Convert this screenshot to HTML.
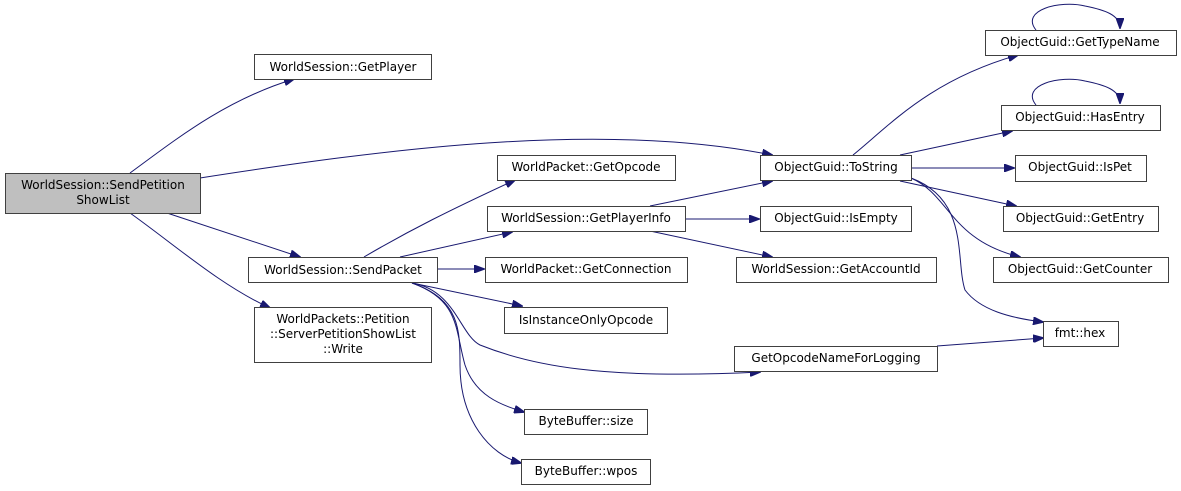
<!DOCTYPE html>
<html><head><meta charset="utf-8"><style>
html,body{margin:0;padding:0;background:#fff;}
svg{display:block}
text{font-family:"DejaVu Sans","Liberation Sans",sans-serif;font-size:12px;fill:#000;text-anchor:middle}
rect{fill:#fff;stroke:#404040;stroke-width:1}
path{fill:none;stroke:#191970;stroke-width:1}
</style></head><body>
<svg width="1181" height="491" viewBox="0 0 1181 491" xmlns="http://www.w3.org/2000/svg">
<defs><marker id="a" markerWidth="11" markerHeight="8" refX="10" refY="4" orient="auto" markerUnits="userSpaceOnUse"><polygon points="0,0 11,4 0,8" fill="#191970" stroke="#191970"/></marker></defs>

<!-- edges -->
<path marker-end="url(#a)" d="M130,173 C175,140 225,100 294,79"/>
<path marker-end="url(#a)" d="M200,178 C380,150 600,120 772,155"/>
<path marker-end="url(#a)" d="M167,213 L300,257"/>
<path marker-end="url(#a)" d="M130,213 C175,245 220,285 270,308"/>
<path marker-end="url(#a)" d="M364,257 C410,230 450,210 515,180"/>
<path marker-end="url(#a)" d="M400,257 L512,232"/>
<path marker-end="url(#a)" d="M437,269 L484,269"/>
<path marker-end="url(#a)" d="M412,283 L522,306"/>
<path marker-end="url(#a)" d="M412,283 C455,290 460,335 480,345 C530,365 600,380 760,372"/>
<path marker-end="url(#a)" d="M412,283 C460,300 455,330 465,365 C475,395 500,405 524,412"/>
<path marker-end="url(#a)" d="M412,283 C460,300 460,330 460,365 C460,420 490,455 521,463"/>
<path marker-end="url(#a)" d="M650,206 L772,181"/>
<path marker-end="url(#a)" d="M685,219 L759,219"/>
<path marker-end="url(#a)" d="M650,231 L772,257"/>
<path marker-end="url(#a)" d="M853,155 C890,125 930,80 1018,55"/>
<path marker-end="url(#a)" d="M900,155 L1012,131"/>
<path marker-end="url(#a)" d="M911,168 L1014,168"/>
<path marker-end="url(#a)" d="M900,181 L1016,206"/>
<path marker-end="url(#a)" d="M911,178 C950,195 950,240 1020,257"/>
<path marker-end="url(#a)" d="M911,178 C970,200 955,260 965,290 C980,310 1010,318 1043,322"/>
<path marker-end="url(#a)" d="M937,346 L1043,338"/>
<path marker-end="url(#a)" d="M1036,30 C1020,10 1060,0 1085,6 C1105,10 1120,15 1120,28"/>
<path marker-end="url(#a)" d="M1036,105 C1020,85 1060,75 1085,81 C1105,85 1120,90 1120,103"/>

<!-- nodes -->
<rect x="5.5" y="173.5" width="195" height="40" style="fill:#bfbfbf"/>
<text x="103" y="189">WorldSession::SendPetition</text><text x="103" y="204">ShowList</text>
<rect x="254.5" y="54.5" width="177" height="25"/><text x="343" y="71">WorldSession::GetPlayer</text>
<rect x="248.5" y="257.5" width="189" height="25"/><text x="343" y="274">WorldSession::SendPacket</text>
<rect x="254.5" y="307.5" width="177" height="55"/>
<text x="343" y="323">WorldPackets::Petition</text><text x="343" y="338">::ServerPetitionShowList</text><text x="343" y="353">::Write</text>
<rect x="497.5" y="155.5" width="178" height="25"/><text x="586" y="171">WorldPacket::GetOpcode</text>
<rect x="487.5" y="206.5" width="198" height="25"/><text x="586" y="222">WorldSession::GetPlayerInfo</text>
<rect x="485.5" y="257.5" width="202" height="25"/><text x="586" y="273">WorldPacket::GetConnection</text>
<rect x="504.5" y="307.5" width="163" height="26"/><text x="586" y="324">IsInstanceOnlyOpcode</text>
<rect x="524.5" y="409.5" width="123" height="25"/><text x="586" y="425">ByteBuffer::size</text>
<rect x="521.5" y="459.5" width="129" height="25"/><text x="586" y="475">ByteBuffer::wpos</text>
<rect x="760.5" y="155.5" width="151" height="25"/><text x="836" y="171">ObjectGuid::ToString</text>
<rect x="760.5" y="206.5" width="151" height="25"/><text x="836" y="222">ObjectGuid::IsEmpty</text>
<rect x="736.5" y="257.5" width="200" height="25"/><text x="836" y="273">WorldSession::GetAccountId</text>
<rect x="734.5" y="346.5" width="203" height="25"/><text x="836" y="362">GetOpcodeNameForLogging</text>
<rect x="985.5" y="30.5" width="191" height="25"/><text x="1080" y="46">ObjectGuid::GetTypeName</text>
<rect x="1001.5" y="105.5" width="159" height="25"/><text x="1080" y="121">ObjectGuid::HasEntry</text>
<rect x="1015.5" y="155.5" width="131" height="26"/><text x="1080" y="171">ObjectGuid::IsPet</text>
<rect x="1003.5" y="206.5" width="155" height="25"/><text x="1080" y="222">ObjectGuid::GetEntry</text>
<rect x="993.5" y="257.5" width="175" height="25"/><text x="1080" y="273">ObjectGuid::GetCounter</text>
<rect x="1043.5" y="321.5" width="75" height="25"/><text x="1080" y="337">fmt::hex</text>
</svg>
</body></html>
